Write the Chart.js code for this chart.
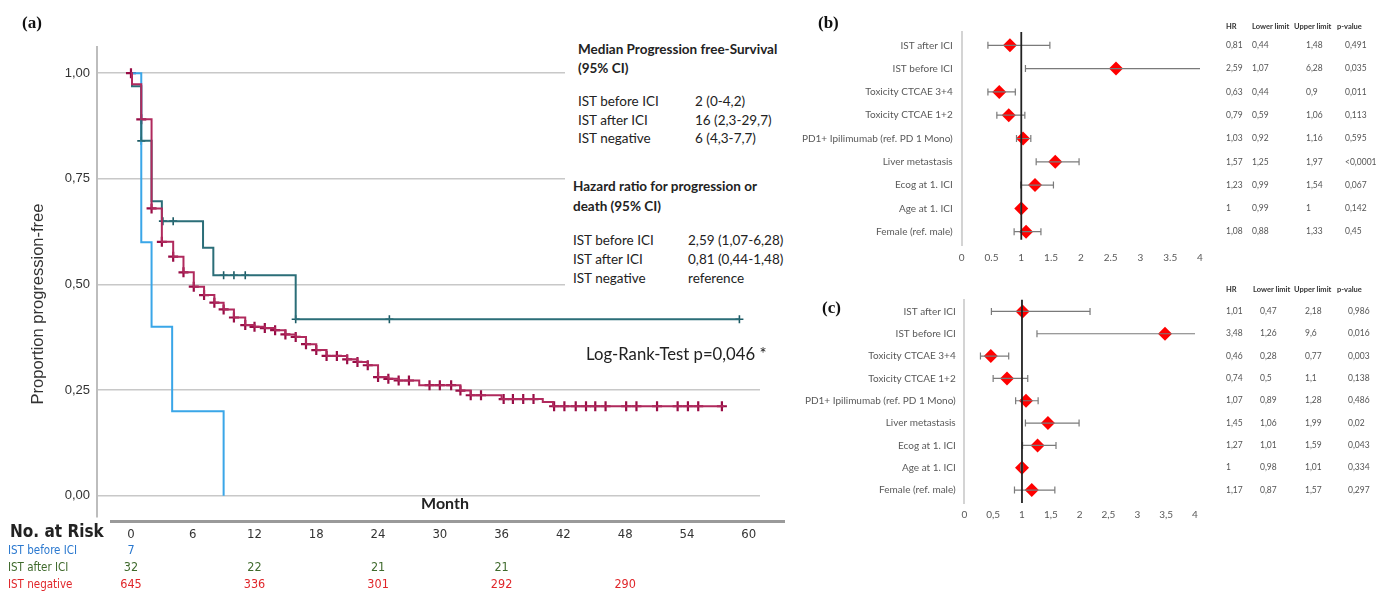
<!DOCTYPE html>
<html>
<head>
<meta charset="utf-8">
<script src="https://cdn.jsdelivr.net/npm/chart.js@4.4.1/dist/chart.umd.min.js"></script>
<style>
  body { margin:0; width:1380px; height:591px; overflow:hidden; background:#fff; position:relative; font-family: Lato, sans-serif; color:#222; }
  canvas { position:absolute; }
  .t { position:absolute; white-space:nowrap; transform:translateY(-50%); line-height:1; }
  .b { font-weight:bold; }
  .lbl { font-family:"Liberation Serif", serif; font-weight:bold; font-size:17px; color:#111; }
  .ann { font-size:13.5px; color:#222; }
  .narrow { font-family:"Liberation Sans Narrow", "DejaVu Sans Condensed", Lato, sans-serif; }
  #cover { position:absolute; left:565px; top:36px; width:230px; height:255px; background:#fff; }
  #riskLine { position:absolute; left:110px; top:520px; width:675px; height:3px; background:#9a9a9a; }
  #ytitle { position:absolute; left:37px; top:304px; transform:translate(-50%,-50%) rotate(-90deg);
            font-family:"Liberation Sans", Arial, sans-serif; font-size:16.5px; color:#333; white-space:nowrap; line-height:1; }
</style>
</head>
<body>
<canvas id="km" style="left:0;top:0" width="800" height="591"></canvas>
<canvas id="forestB" style="left:800px;top:0" width="580" height="270"></canvas>
<canvas id="forestC" style="left:800px;top:285px" width="580" height="245"></canvas>

<div id="cover"></div>
<div id="riskLine"></div>
<div id="ytitle">Proportion progression-free</div>

<div class="t lbl" style="left:22px;top:22px">(a)</div>
<div class="t lbl" style="left:818px;top:22px">(b)</div>
<div class="t lbl" style="left:822px;top:307px">(c)</div>

<div class="t ann b" style="left:578px;top:50px">Median Progression free-Survival</div>
<div class="t ann b" style="left:578px;top:69px">(95% CI)</div>
<div class="t ann" style="left:578px;top:102px">IST before ICI</div>
<div class="t ann" style="left:695px;top:102px">2 (0-4,2)</div>
<div class="t ann" style="left:578px;top:121px">IST after ICI</div>
<div class="t ann" style="left:695px;top:121px">16 (2,3-29,7)</div>
<div class="t ann" style="left:578px;top:139px">IST negative</div>
<div class="t ann" style="left:695px;top:139px">6 (4,3-7,7)</div>

<div class="t ann b" style="left:573px;top:187px">Hazard ratio for progression or</div>
<div class="t ann b" style="left:573px;top:207px">death (95% CI)</div>
<div class="t ann" style="left:573px;top:241px">IST before ICI</div>
<div class="t ann" style="left:688px;top:241px">2,59 (1,07-6,28)</div>
<div class="t ann" style="left:573px;top:260px">IST after ICI</div>
<div class="t ann" style="left:688px;top:260px">0,81 (0,44-1,48)</div>
<div class="t ann" style="left:573px;top:279px">IST negative</div>
<div class="t ann" style="left:688px;top:279px">reference</div>

<div class="t" style="left:586px;top:354px;font-size:16.7px;color:#222">Log-Rank-Test p=0,046 *</div>

<div class="t b" style="left:445px;top:503px;font-size:16px;transform:translate(-50%,-50%)">Month</div>
<div class="t b narrow" style="left:10px;top:531px;font-size:17px">No. at Risk</div>
<div class="t narrow" style="left:8px;top:551px;font-size:11.5px;color:#2a78cf">IST before ICI</div>
<div class="t narrow" style="left:8px;top:568px;font-size:11.5px;color:#3f6a2c">IST after ICI</div>
<div class="t narrow" style="left:8px;top:585px;font-size:11.5px;color:#e0262a">IST negative</div>

<script>
const NARROW = '"Liberation Sans Narrow", "DejaVu Sans Condensed", Lato, sans-serif';
const ARIAL = '"Liberation Sans", Arial, sans-serif';

// Kaplan-Meier steps (month, proportion progression-free after the step)
const beforeT = [0, 1, 2, 4, 9];
const beforeS = [1, 0.6, 0.4, 0.2, 0];

const afterT = [0, 0.1, 1, 2, 3, 7, 8, 16, 59.1];
const afterS = [1, 0.969, 0.84, 0.697, 0.65, 0.587, 0.522, 0.418, 0.418];
const afterCensor = [1, 3.1, 4.1, 9, 10, 11.1, 16, 25.1, 59.1];

const negT = [0, 0.1, 1, 2, 3, 4.1, 5.1, 6.1, 7.1, 8.1, 9, 10, 11.1, 12, 13, 14, 15, 16, 17, 18, 19,
  21, 22, 23, 24, 25, 26, 28, 32, 33, 36, 40, 41, 57.6];
const negS = [1, 0.974, 0.891, 0.68, 0.601, 0.566, 0.529, 0.495, 0.475, 0.457, 0.441, 0.422, 0.404, 0.4, 0.397, 0.392, 0.382, 0.376, 0.359, 0.345, 0.331,
  0.323, 0.317, 0.309, 0.281, 0.277, 0.273, 0.262, 0.249, 0.238, 0.229, 0.222, 0.212, 0.212];
const negCensor = [0, 1, 2, 3, 4.1, 5.1, 6.1, 7.1, 8.1, 9, 10, 11.1, 12, 13, 14, 15, 16, 17, 18, 19, 20,
  21, 22, 23, 24, 25, 26, 27, 29, 30, 31.1, 32, 33, 34, 36.2, 37.1, 38.1, 39.1,
  41.1, 42.1, 43.2, 44.2, 45.1, 46.1, 48.1, 49.1, 51.1, 53.1, 54.1, 55.1, 57.4];

const kmXTicks = [0, 6, 12, 18, 24, 30, 36, 42, 48, 54, 60];
const kmYTicks = [0, 0.25, 0.5, 0.75, 1];

// numbers at risk
const riskMonths = [0, 12, 24, 36, 48];
const riskBefore = [7];
const riskAfter = [32, 22, 21, 21];
const riskNeg = [645, 336, 301, 292, 290];

// forest plots
const forestLabels = ['IST after ICI', 'IST before ICI', 'Toxicity CTCAE 3+4', 'Toxicity CTCAE 1+2',
  'PD1+ Ipilimumab (ref. PD 1 Mono)', 'Liver metastasis', 'Ecog at 1. ICI', 'Age at 1. ICI', 'Female (ref. male)'];
const forestTicks = [0, 0.5, 1, 1.5, 2, 2.5, 3, 3.5, 4];

const hrB = [0.81, 2.59, 0.63, 0.79, 1.03, 1.57, 1.23, 1, 1.08];
const loB = [0.44, 1.07, 0.44, 0.59, 0.92, 1.25, 0.99, 0.99, 0.88];
const hiB = [1.48, 6.28, 0.9, 1.06, 1.16, 1.97, 1.54, 1, 1.33];
const pB = ['0,491', '0,035', '0,011', '0,113', '0,595', '<0,0001', '0,067', '0,142', '0,45'];

const hrC = [1.01, 3.48, 0.46, 0.74, 1.07, 1.45, 1.27, 1, 1.17];
const loC = [0.47, 1.26, 0.28, 0.5, 0.89, 1.06, 1.01, 0.98, 0.87];
const hiC = [2.18, 9.6, 0.77, 1.1, 1.28, 1.99, 1.59, 1.01, 1.57];
const pC = ['0,986', '0,016', '0,003', '0,138', '0,486', '0,02', '0,043', '0,334', '0,297'];

// helpers
const steps = (T, S) => T.map((t, i) => ({x: t, y: S[i]}));
const survAt = function(T, S, t) {
    let v = S[0];
    T.forEach((tt, i) => { if (tt <= t) v = S[i]; });
    return v;
};
const censorPts = (C, T, S) => C.map((t) => ({x: t, y: survAt(T, S, t)}));
const comma = (v) => String(v).replace('.', ',');

const BLUE = '#3aa6e8';
const TEAL = '#2b6e78';
const TEAL_MARK = '#1d5b65';
const RED = '#b02a5d';
const RED_MARK = '#980c45';

const riskTable = {
    id: 'riskTable',
    afterDraw(chart) {
        const {ctx, scales: {x}} = chart;
        const rows = [
            {vals: riskBefore, y: 551, color: '#2a78cf'},
            {vals: riskAfter, y: 568, color: '#3f6a2c'},
            {vals: riskNeg, y: 585, color: '#e0262a'}
        ];
        ctx.save();
        ctx.font = '12.5px ' + NARROW;
        ctx.textAlign = 'center';
        ctx.textBaseline = 'middle';
        rows.forEach((r) => {
            ctx.fillStyle = r.color;
            r.vals.forEach((n, i) => ctx.fillText(String(n), x.getPixelForValue(riskMonths[i]), r.y));
        });
        ctx.restore();
    }
};

new Chart('km', {
    type: 'line',
    data: {
        datasets: [
            {data: steps(negT, negS), borderColor: RED, borderWidth: 2, stepped: 'before', pointRadius: 0},
            {data: steps(afterT, afterS), borderColor: TEAL, borderWidth: 2, stepped: 'before', pointRadius: 0},
            {data: steps(beforeT, beforeS), borderColor: BLUE, borderWidth: 2, stepped: 'before', pointRadius: 0},
            {type: 'scatter', data: censorPts(negCensor, negT, negS), pointStyle: 'cross', pointRadius: 5,
             borderColor: RED_MARK, borderWidth: 2.2},
            {type: 'scatter', data: censorPts(afterCensor, afterT, afterS), pointStyle: 'cross', pointRadius: 4,
             borderColor: TEAL_MARK, borderWidth: 1.6}
        ]
    },
    options: {
        responsive: false,
        animation: false,
        layout: {padding: {top: 47, right: 40, left: 0, bottom: 0}},
        plugins: {legend: {display: false}, tooltip: {enabled: false}},
        scales: {
            x: {
                type: 'linear', min: -3.3, max: 61.1,
                grid: {display: false, drawTicks: false},
                border: {display: false},
                afterBuildTicks: (s) => { s.ticks = kmXTicks.map((v) => ({value: v})); },
                afterFit: (s) => { s.height = 74; },
                ticks: {padding: 10, autoSkip: false, maxRotation: 0, color: '#333', font: {family: NARROW, size: 13}}
            },
            y: {
                type: 'linear', min: -0.05, max: 1.062,
                grid: {color: '#c8c8c8', lineWidth: 1.5, drawTicks: false},
                border: {color: '#bdbdbd', width: 2},
                afterBuildTicks: (s) => { s.ticks = kmYTicks.map((v) => ({value: v})); },
                afterFit: (s) => { s.width = 97; },
                ticks: {padding: 7, color: '#333', font: {family: ARIAL, size: 13},
                        callback: (v) => v.toFixed(2).replace('.', ',')}
            }
        }
    },
    plugins: [riskTable]
});

// forest plots
const makeForest = function(id, g) {
    const whiskers = g.hr.map((h, i) => ({
        data: [{x: g.lo[i], y: i}, {x: g.hi[i], y: i}],
        borderColor: '#7a7a7a', borderWidth: 1.2, pointRadius: 0
    }));
    const caps = {
        type: 'scatter',
        data: g.hr.flatMap((h, i) => [{x: g.lo[i], y: i}, {x: g.hi[i], y: i}]),
        pointStyle: 'line', rotation: 90, pointRadius: 3.5, borderColor: '#7a7a7a', borderWidth: 1.2
    };
    const refLine = {
        data: [{x: 1, y: g.yMin}, {x: 1, y: g.refEnd}],
        borderColor: '#222', borderWidth: 1.8, pointRadius: 0
    };
    const diamonds = {
        type: 'scatter',
        data: g.hr.map((h, i) => ({x: h, y: i})),
        pointStyle: 'rectRot', pointRadius: 7, backgroundColor: '#ff0000', borderColor: '#ff0000', borderWidth: 0
    };
    const table = {
        id: 'table' + id,
        afterDraw(chart) {
            const {ctx, scales: {y}} = chart;
            ctx.save();
            ctx.textBaseline = 'middle';
            ctx.textAlign = 'left';
            ctx.fillStyle = '#333';
            ctx.font = 'bold 7.5px Lato, sans-serif';
            const head = ['HR', 'Lower limit', 'Upper limit', 'p-value'];
            head.forEach((h, i) => ctx.fillText(h, g.headX[i] - 800, g.headY));
            ctx.fillStyle = '#555';
            ctx.font = '8.5px Lato, sans-serif';
            g.hr.forEach((h, i) => {
                const py = y.getPixelForValue(i);
                const cells = [comma(h), comma(g.lo[i]), comma(g.hi[i]), g.p[i]];
                cells.forEach((c, k) => ctx.fillText(c, g.colX[k] - 800, py));
            });
            ctx.restore();
        }
    };
    new Chart(id, {
        type: 'line',
        data: {datasets: [refLine, ...whiskers, caps, diamonds]},
        options: {
            responsive: false,
            animation: false,
            layout: {padding: {top: g.top, right: g.right, left: 0, bottom: 0}},
            plugins: {legend: {display: false}, tooltip: {enabled: false}},
            scales: {
                x: {
                    type: 'linear', min: 0, max: 4,
                    grid: {display: false, drawTicks: false},
                    border: {display: false},
                    afterBuildTicks: (s) => { s.ticks = forestTicks.map((v) => ({value: v})); },
                    afterFit: (s) => { s.height = g.xh; },
                    ticks: {padding: g.xpad, autoSkip: false, maxRotation: 0, color: '#595959',
                            font: {family: 'Lato, sans-serif', size: 10}, callback: g.fmt}
                },
                y: {
                    type: 'linear', min: g.yMin, max: g.yMax, reverse: true,
                    grid: {display: false, drawTicks: false},
                    border: {color: '#d4d4d4', width: 2},
                    afterBuildTicks: (s) => { s.ticks = forestLabels.map((l, i) => ({value: i})); },
                    afterFit: (s) => { s.width = g.yw; },
                    ticks: {padding: g.ypad, color: '#595959', font: {family: 'Lato, sans-serif', size: 10},
                            callback: (v) => forestLabels[v]}
                }
            }
        },
        plugins: [table]
    });
};

makeForest('forestB', {
    hr: hrB, lo: loB, hi: hiB, p: pB,
    top: 32, right: 180, xh: 25, xpad: 7, yw: 161.7, ypad: 9,
    yMin: -0.57, yMax: 8.57, refEnd: 8.35,
    fmt: (v) => String(v),
    headX: [1226, 1252, 1294, 1337], headY: 27,
    colX: [1226, 1252, 1306, 1345]
});

makeForest('forestC', {
    hr: hrC, lo: loC, hi: hiC, p: pC,
    top: 13, right: 185, xh: 27, xpad: 6, yw: 164.3, ypad: 8.6,
    yMin: -0.53, yMax: 8.58, refEnd: 8.58,
    fmt: (v) => comma(v),
    headX: [1226, 1253, 1294, 1337], headY: 5,
    colX: [1226, 1260, 1305, 1348]
});
</script>
</body>
</html>
